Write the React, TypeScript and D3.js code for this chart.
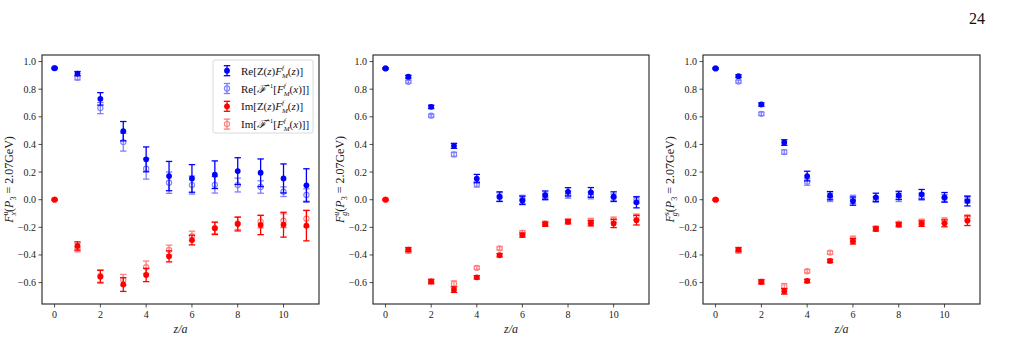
import React from 'react';
import * as d3 from 'd3';

// lattice separation z/a, same for every panel
const zValues = [0, 1, 2, 3, 4, 5, 6, 7, 8, 9, 10, 11];
const xTickValues = [0, 2, 4, 6, 8, 10];
const yTickValues = [-0.6, -0.4, -0.2, 0.0, 0.2, 0.4, 0.6, 0.8, 1.0];

// F^u_x
const uxReZ = [0.952, 0.913, 0.730, 0.496, 0.292, 0.171, 0.154, 0.181, 0.207, 0.195, 0.154, 0.104];
const uxReZErr = [0.005, 0.015, 0.045, 0.07, 0.09, 0.106, 0.10, 0.10, 0.097, 0.10, 0.105, 0.12];
const uxReF = [0.952, 0.882, 0.663, 0.417, 0.224, 0.123, 0.106, 0.108, 0.106, 0.092, 0.058, 0.034];
const uxReFErr = [0.005, 0.015, 0.04, 0.065, 0.075, 0.077, 0.065, 0.06, 0.05, 0.045, 0.035, 0.045];
const uxImZ = [0.0, -0.335, -0.557, -0.614, -0.545, -0.41, -0.292, -0.207, -0.176, -0.183, -0.181, -0.188];
const uxImZErr = [0.005, 0.03, 0.045, 0.05, 0.048, 0.04, 0.035, 0.045, 0.05, 0.07, 0.09, 0.11];
const uxImF = [0.0, -0.347, -0.552, -0.581, -0.489, -0.364, -0.263, -0.205, -0.171, -0.159, -0.152, -0.137];
const uxImFErr = [0.005, 0.03, 0.045, 0.04, 0.045, 0.035, 0.035, 0.04, 0.045, 0.045, 0.05, 0.06];

// F^u_g
const ugReZ = [0.95, 0.89, 0.672, 0.39, 0.153, 0.022, -0.005, 0.033, 0.057, 0.053, 0.022, -0.019];
const ugReZErr = [0.005, 0.01, 0.012, 0.018, 0.03, 0.035, 0.03, 0.03, 0.03, 0.035, 0.035, 0.04];
const ugReF = [0.95, 0.854, 0.608, 0.328, 0.112, 0.02, 0.002, 0.022, 0.036, 0.031, 0.017, -0.002];
const ugReFErr = [0.005, 0.01, 0.01, 0.015, 0.02, 0.03, 0.03, 0.025, 0.025, 0.025, 0.025, 0.025];
const ugImZ = [0.0, -0.361, -0.591, -0.651, -0.562, -0.402, -0.256, -0.177, -0.16, -0.17, -0.172, -0.148];
const ugImZErr = [0.005, 0.015, 0.015, 0.02, 0.012, 0.012, 0.015, 0.015, 0.015, 0.02, 0.03, 0.035];
const ugImF = [0.0, -0.371, -0.596, -0.608, -0.493, -0.352, -0.239, -0.172, -0.153, -0.155, -0.146, -0.124];
const ugImFErr = [0.005, 0.015, 0.015, 0.02, 0.012, 0.012, 0.015, 0.015, 0.015, 0.02, 0.02, 0.02];

// F^s_g
const sgReZ = [0.95, 0.894, 0.689, 0.414, 0.171, 0.029, -0.01, 0.017, 0.031, 0.039, 0.017, -0.01];
const sgReZErr = [0.005, 0.01, 0.012, 0.02, 0.035, 0.03, 0.03, 0.03, 0.03, 0.035, 0.035, 0.035];
const sgReF = [0.95, 0.855, 0.622, 0.345, 0.13, 0.017, 0.002, 0.002, 0.017, 0.022, 0.012, 0.002];
const sgReFErr = [0.005, 0.01, 0.012, 0.015, 0.025, 0.03, 0.03, 0.02, 0.03, 0.025, 0.025, 0.025];
const sgImZ = [0.0, -0.361, -0.595, -0.663, -0.588, -0.443, -0.301, -0.212, -0.181, -0.173, -0.171, -0.152];
const sgImZErr = [0.005, 0.015, 0.015, 0.02, 0.012, 0.012, 0.02, 0.015, 0.015, 0.02, 0.025, 0.035];
const sgImF = [0.0, -0.371, -0.593, -0.627, -0.518, -0.383, -0.284, -0.207, -0.173, -0.161, -0.152, -0.13];
const sgImFErr = [0.005, 0.015, 0.015, 0.02, 0.012, 0.012, 0.02, 0.015, 0.015, 0.02, 0.02, 0.02];

const BLUE = '#0000ff';
const RED = '#ff0000';
const FONT = '"Liberation Serif", "DejaVu Serif", serif';

const TOP = 55;
const BOTTOM = 304;

type Series = { y: number[]; err: number[]; color: string; open: boolean };

const panels = [
  {
    left: 42, right: 319, sup: 'u', sub: 'x', legend: true,
    series: [
      { y: uxReZ, err: uxReZErr, color: BLUE, open: false },
      { y: uxReF, err: uxReFErr, color: BLUE, open: true },
      { y: uxImZ, err: uxImZErr, color: RED, open: false },
      { y: uxImF, err: uxImFErr, color: RED, open: true },
    ] as Series[],
  },
  {
    left: 373, right: 649, sup: 'u', sub: 'g', legend: false,
    series: [
      { y: ugReZ, err: ugReZErr, color: BLUE, open: false },
      { y: ugReF, err: ugReFErr, color: BLUE, open: true },
      { y: ugImZ, err: ugImZErr, color: RED, open: false },
      { y: ugImF, err: ugImFErr, color: RED, open: true },
    ] as Series[],
  },
  {
    left: 703, right: 980, sup: 's', sub: 'g', legend: false,
    series: [
      { y: sgReZ, err: sgReZErr, color: BLUE, open: false },
      { y: sgReF, err: sgReFErr, color: BLUE, open: true },
      { y: sgImZ, err: sgImZErr, color: RED, open: false },
      { y: sgImF, err: sgImFErr, color: RED, open: true },
    ] as Series[],
  },
];

const fmtY = (v: number) => d3.format('.1f')(v).replace('-', '\u2212');

function ErrPoint({ cx, cy, y0, y1, color, open }: { cx: number; cy: number; y0: number; y1: number; color: string; open: boolean }) {
  const cap = 3.2;
  return (
    <g opacity={open ? 0.5 : 1} stroke={color} strokeWidth={1.3}>
      <line x1={cx} x2={cx} y1={y0} y2={y1} />
      <line x1={cx - cap} x2={cx + cap} y1={y0} y2={y0} />
      <line x1={cx - cap} x2={cx + cap} y1={y1} y2={y1} />
      {open
        ? <circle cx={cx} cy={cy} r={2.6} fill="none" strokeWidth={1.1} />
        : <circle cx={cx} cy={cy} r={2.9} fill={color} stroke="none" />}
    </g>
  );
}

// F̂ with a hat, used inside legend labels
function Legend({ x, y }: { x: number; y: number }) {
  const items = [
    { color: BLUE, open: false, pre: 'Re', kind: 'z' },
    { color: BLUE, open: true, pre: 'Re', kind: 'x' },
    { color: RED, open: false, pre: 'Im', kind: 'z' },
    { color: RED, open: true, pre: 'Im', kind: 'x' },
  ];
  const rowH = 17.8;
  return (
    <g>
      <rect x={x} y={y} width={100} height={73} rx={2} fill="white" fillOpacity={0.8} stroke="#d0d0d0" strokeWidth={0.8} />
      {items.map((it, i) => {
        const cy = y + 10.7 + i * rowH;
        const cx = x + 14;
        return (
          <g key={i}>
            <ErrPoint cx={cx} cy={cy} y0={cy - 5} y1={cy + 5} color={it.color} open={it.open} />
            <text x={x + 28} y={cy + 4} fontSize={11} fontFamily={FONT} fill="#111">
              {it.kind === 'z' ? (
                <>
                  <tspan>{it.pre}[Z(</tspan>
                  <tspan fontStyle="italic">z</tspan>
                  <tspan>)</tspan>
                  <tspan fontStyle="italic">F</tspan>
                  <tspan fontSize={7} dy={-5} fontStyle="italic">f</tspan>
                  <tspan fontSize={7} dx={-2} dy={8} fontStyle="italic">M</tspan>
                  <tspan dy={-3}>(</tspan>
                  <tspan fontStyle="italic">z</tspan>
                  <tspan>)]</tspan>
                </>
              ) : (
                <>
                  <tspan>{it.pre}[</tspan>
                  <tspan fontStyle="italic">{'\u2131\u0302'}</tspan>
                  <tspan fontSize={7} dy={-5}>{'\u22121'}</tspan>
                  <tspan dy={5}>[</tspan>
                  <tspan fontStyle="italic">F</tspan>
                  <tspan fontSize={7} dy={-5} fontStyle="italic">f</tspan>
                  <tspan fontSize={7} dx={-2} dy={8} fontStyle="italic">M</tspan>
                  <tspan dy={-3}>(</tspan>
                  <tspan fontStyle="italic">x</tspan>
                  <tspan>)]]</tspan>
                </>
              )}
            </text>
          </g>
        );
      })}
    </g>
  );
}

function Panel({ p }: { p: typeof panels[number] }) {
  const x = d3.scaleLinear().domain([-0.55, 11.55]).range([p.left, p.right]);
  const y = d3.scaleLinear().domain([-0.755, 1.0475]).range([BOTTOM, TOP]);
  const midY = (TOP + BOTTOM) / 2;
  const labelX = p.left - 29;
  return (
    <g>
      {p.series.map((s, si) => (
        <g key={si}>
          {zValues.map((z, i) => (
            <ErrPoint key={i} cx={x(z)} cy={y(s.y[i])} y0={y(s.y[i] + s.err[i])} y1={y(s.y[i] - s.err[i])} color={s.color} open={s.open} />
          ))}
        </g>
      ))}
      <rect x={p.left} y={TOP} width={p.right - p.left} height={BOTTOM - TOP} fill="none" stroke="#222" strokeWidth={1.1} />
      {xTickValues.map(t => (
        <g key={t}>
          <line x1={x(t)} x2={x(t)} y1={BOTTOM} y2={BOTTOM + 3.5} stroke="#222" strokeWidth={0.8} />
          <text x={x(t)} y={BOTTOM + 14} textAnchor="middle" fontSize={10} fontFamily={FONT} fill="#222">{t}</text>
        </g>
      ))}
      {yTickValues.map(t => (
        <g key={t}>
          <line x1={p.left - 3.5} x2={p.left} y1={y(t)} y2={y(t)} stroke="#222" strokeWidth={0.8} />
          <text x={p.left - 6} y={y(t) + 3.5} textAnchor="end" fontSize={10} fontFamily={FONT} fill="#222">{fmtY(t)}</text>
        </g>
      ))}
      <text x={(p.left + p.right) / 2} y={BOTTOM + 29} textAnchor="middle" fontSize={12} fontFamily={FONT} fontStyle="italic" fill="#222">z/a</text>
      <text transform={`translate(${labelX},${midY}) rotate(-90)`} textAnchor="middle" fontSize={12} fontFamily={FONT} fill="#222">
        <tspan fontStyle="italic">F</tspan>
        <tspan fontSize={8} dy={-5} fontStyle="italic">{p.sup}</tspan>
        <tspan fontSize={8} dx={-4} dy={8} fontStyle="italic">{p.sub}</tspan>
        <tspan dy={-3}>(</tspan>
        <tspan fontStyle="italic">P</tspan>
        <tspan fontSize={8} dy={3}>3</tspan>
        <tspan dy={-3}> = 2.07GeV)</tspan>
      </text>
      {p.legend && <Legend x={213} y={60} />}
    </g>
  );
}

export default function App() {
  return (
    <svg width={1010} height={345} style={{ position: 'absolute', left: 0, top: 0, background: 'white' }}>
      <rect width={1010} height={345} fill="white" />
      <text x={985} y={24} textAnchor="end" fontSize={16} fontFamily={FONT} fill="#111">24</text>
      {panels.map((p, i) => <Panel key={i} p={p} />)}
    </svg>
  );
}
